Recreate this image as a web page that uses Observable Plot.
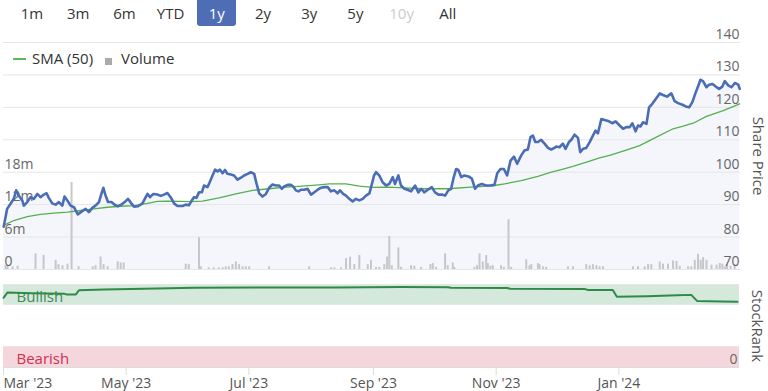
<!DOCTYPE html>
<html><head><meta charset="utf-8">
<script src="https://cdn.jsdelivr.net/npm/d3@7"></script>
<script src="https://cdn.jsdelivr.net/npm/@observablehq/plot@0.6"></script>
<style>
body{margin:0;background:#fff;font-family:"Open Sans",sans-serif;}
#wrap{position:relative;width:768px;height:391px;overflow:hidden;background:#fff;}
#wrap svg{position:absolute;left:0;top:0;max-width:none;}
.btn{position:absolute;top:0;height:26px;line-height:26px;font-size:15px;color:#333;text-align:center;width:46px;}
.btn.dis{color:#ccc;}
.btn.sel span{display:inline-block;width:39px;height:26px;background:#4f6db4;color:#fff;border-radius:0 0 3px 3px;}
#legend{position:absolute;left:13px;top:48px;height:20px;line-height:20px;font-size:15px;color:#333;white-space:nowrap;}
#legend .ln{display:inline-block;width:13px;height:2px;background:#5cb85c;vertical-align:middle;margin-right:6px;position:relative;top:-1px;}
#legend .sq{display:inline-block;width:7px;height:7px;background:#aaa;margin-left:12px;margin-right:9px;position:relative;top:1px;}
</style></head>
<body><div id="wrap"></div>
<script>
// ---- data (x = days since 1 Mar 2023) ----
const rangeLabels = ["1m","3m","6m","YTD","1y","2y","3y","5y","10y","All"];
const monthTickDays = [0, 61, 122, 184, 245, 306];
const monthTickLabels = ["Mar '23","May '23","Jul '23","Sep '23","Nov '23","Jan '24"];
const priceTicks = [70, 80, 90, 100, 110, 120, 130, 140];
const volTicks = [0, 6, 12, 18];
const volTickLabels = ["0", "6m", "12m", "18m"];

const priceDays = [0.1,1.8,3.5,5.1,6.3,7.6,9.3,10.1,11.8,13.4,15.1,16.8,18.4,20.0,21.4,22.5,24.2,25.9,27.5,29.2,30.3,31.7,33.3,35.0,36.9,39.1,40.8,42.4,44.1,45.7,47.4,48.6,49.6,50.7,51.9,53.6,55.2,56.8,58.5,60.2,61.8,63.5,64.8,66.8,69.0,71.5,72.8,74.4,76.4,78.1,79.7,81.4,83.0,84.7,86.4,88.9,90.5,92.1,93.5,94.6,95.8,97.1,98.5,99.6,101.3,102.4,103.8,105.1,106.3,107.4,108.8,110.0,111.2,112.9,114.5,116.2,117.9,119.5,121.2,122.8,124.5,125.7,127.0,128.6,130.3,131.9,133.6,135.3,136.9,138.2,139.4,141.1,142.7,143.9,145.2,146.5,147.7,149.3,151.0,152.7,154.3,156.0,157.6,159.3,161.0,162.6,164.3,165.9,167.1,168.7,170.1,171.7,173.4,175.0,176.7,178.4,180.0,181.7,183.0,184.0,185.0,186.6,188.3,190.0,191.6,193.3,194.4,196.1,197.4,199.1,200.7,202.4,204.4,206.0,207.4,209.0,210.7,212.7,214.3,216.0,217.7,219.3,220.9,222.3,223.6,224.8,225.9,227.3,228.9,230.9,232.6,234.2,235.6,237.5,239.7,241.8,243.8,245.2,246.8,248.5,250.1,251.8,253.5,255.1,257.1,258.7,260.4,261.7,262.9,264.1,265.4,267.0,268.7,270.4,272.0,273.6,274.5,276.1,277.8,279.1,280.8,282.0,283.6,285.3,286.4,287.8,289.4,291.1,292.7,294.0,295.2,296.9,298.5,300.7,302.3,304.0,306.0,307.7,309.3,311.0,312.3,313.9,315.1,316.3,317.6,319.3,320.6,322.2,323.9,325.9,327.5,329.5,331.7,333.3,335.0,337.2,338.8,340.5,342.1,343.8,344.9,346.1,347.4,349.1,350.4,352.1,353.7,355.4,357.0,358.2,359.9,361.5,363.2,364.9,365.6];
const priceValues = [83.2,88.7,90.3,91.8,94.4,92.8,91.3,89.7,90.8,92.3,91.8,93.3,92.3,93.1,93.5,92.1,90.4,90.0,90.8,89.7,92.5,91.3,89.7,89.2,87.0,88.0,88.7,87.7,89.0,89.7,90.8,93.3,95.2,92.8,90.8,90.8,90.0,89.5,90.0,90.8,91.8,90.4,89.4,89.5,90.4,93.3,92.3,93.3,93.1,92.7,93.1,93.6,92.3,90.4,89.6,89.6,90.0,89.8,91.3,92.3,92.1,93.8,93.8,95.9,95.4,96.9,99.0,100.8,100.2,100.8,99.7,100.7,99.5,99.3,99.0,97.7,98.3,99.0,99.5,100.0,99.5,96.4,93.5,92.5,93.3,95.2,96.2,95.9,95.9,94.9,95.6,96.1,96.1,95.6,94.4,94.1,94.6,94.6,94.9,93.1,93.8,94.6,95.2,95.4,95.4,94.1,94.4,93.5,94.4,93.3,92.8,91.8,91.0,91.8,91.3,91.8,92.8,93.5,96.5,99.0,100.0,99.0,96.9,95.9,96.4,98.5,96.4,99.0,95.9,94.9,94.6,94.1,95.9,93.8,94.9,93.8,94.6,95.4,93.8,93.1,93.1,92.8,94.4,94.9,98.5,101.0,100.7,98.5,99.0,98.7,98.0,94.9,95.9,96.4,95.9,95.9,96.1,99.7,101.0,101.0,99.0,103.6,104.8,102.6,105.2,106.7,107.0,110.8,111.3,109.3,109.3,110.0,108.8,107.5,107.0,107.5,107.9,107.7,108.8,107.2,109.3,110.0,111.6,110.6,106.2,107.2,107.5,109.3,111.3,112.8,112.0,116.4,116.1,115.7,115.1,115.7,114.4,113.4,113.9,113.9,115.1,112.6,114.4,114.1,115.4,114.9,120.0,121.1,122.6,124.3,123.8,123.3,124.3,121.9,121.3,120.8,120.3,120.0,121.6,124.7,126.4,128.5,128.1,126.2,127.0,127.2,126.4,125.7,126.4,128.1,126.8,126.2,127.5,127.0,125.7];

const smaDays = [0.1,5.1,11.8,18.4,25.0,31.7,38.3,44.9,51.6,58.2,64.8,71.5,76.4,81.4,88.0,93.0,98.8,107.1,115.4,123.7,131.9,140.2,148.5,156.8,161.8,170.1,176.7,183.3,190.8,199.1,207.4,220.6,232.2,243.8,248.8,257.1,265.4,272.0,277.0,282.8,291.1,296.0,301.0,307.7,315.9,324.2,332.5,337.5,342.5,349.1,357.4,365.6];
const smaValues = [83.6,85.1,86.3,87.0,87.4,87.7,88.2,88.7,89.2,89.5,89.7,90.4,91.0,91.1,91.0,90.9,91.1,92.1,93.3,94.4,94.9,95.4,95.7,96.1,96.4,96.4,95.7,95.3,95.4,95.2,94.9,94.9,95.4,95.9,96.4,97.4,98.7,100.0,100.8,101.8,103.4,104.4,105.2,106.5,108.2,110.8,113.4,114.2,115.1,117.2,119.0,121.1];

const volDays = [1.0,2.0,4.5,7.0,15.9,19.9,25.9,27.3,29.3,31.8,33.8,37.3,44.3,45.7,48.2,49.7,51.7,56.7,58.2,59.7,90.5,92.0,97.1,98.0,101.9,104.4,106.9,108.9,110.4,111.9,113.7,115.4,117.0,118.7,120.3,122.0,131.9,151.8,162.6,164.3,167.6,170.1,172.1,174.2,176.7,180.9,182.5,185.0,186.6,189.1,190.5,191.6,192.8,196.1,197.4,202.4,204.0,207.4,212.0,213.2,214.8,219.3,220.6,223.1,223.9,233.9,235.2,236.4,238.0,239.7,240.5,241.8,243.0,247.1,248.5,250.8,252.1,259.6,261.2,262.1,265.4,266.2,267.9,269.5,280.3,282.8,289.4,291.1,292.7,294.4,296.0,297.7,312.6,315.1,318.4,320.1,321.7,325.9,327.5,330.0,332.5,334.2,335.8,340.0,341.6,343.3,344.9,346.2,347.4,349.1,351.6,354.1,355.7,357.0,358.2,359.3,361.1,363.1];
const volValues = [0.7,0.6,0.5,0.6,2.9,2.6,1.7,0.9,0.7,1.0,16.1,0.5,0.5,0.7,2.3,0.9,0.5,1.4,1.2,1.2,1.0,0.9,5.9,0.5,0.3,0.3,0.3,0.3,0.5,0.5,0.9,1.4,0.9,0.5,0.5,0.5,0.5,0.5,0.3,0.3,0.3,2.0,2.3,0.9,2.6,0.9,1.7,0.4,0.4,0.9,2.3,6.1,0.7,4.0,0.4,0.7,0.6,0.4,0.9,1.1,0.4,2.9,0.7,1.2,0.4,0.4,0.7,2.9,1.4,2.6,1.1,0.6,0.7,0.7,0.4,9.2,0.4,1.8,0.7,0.9,1.1,0.9,0.5,0.4,0.5,0.5,0.9,0.7,0.9,0.7,0.5,0.5,0.5,0.5,0.5,0.9,0.9,1.4,1.0,1.0,1.6,1.5,0.6,0.5,0.5,1.7,2.8,1.7,2.2,1.7,0.8,0.8,1.1,1.0,0.5,0.9,0.6,0.8];

const rankDays = [0,2,14,30,31.5,36,37.5,50,70,95,130,165,198,221,222.5,250.5,252,289,290.5,303,305,320,335,342,345,357,365];
const rankValues = [84,90.5,89.5,89,88,88,93,94,95,96,96.5,96.5,97,96.8,96,95.8,94.8,94.5,93.5,93.3,85.2,85.8,87,87.5,80,79.5,79.3];

const bandLabels = ["Bullish", "Bearish"];
const bandLow = [75, 0];
const bandHigh = [100, 25];

// ---- build ----
const xDomain = [0, 366];
const price = priceDays.map((d, i) => ({day: d, price: priceValues[i]}));
const sma = smaDays.map((d, i) => ({day: d, sma: smaValues[i]}));
const vol = volDays.map((d, i) => ({day: d, vol: volValues[i]}));
const rank = rankDays.map((d, i) => ({day: d, rank: rankValues[i]}));
const bands = bandLabels.map((l, i) => ({label: l, low: bandLow[i], high: bandHigh[i]}));
const months = monthTickDays.map((d, i) => ({day: d, label: monthTickLabels[i]}));
const bandFill = ["#d5e8dc", "#f6d6dd"];
const bandText = ["#3f8b55", "#d0304f"];

const W = 768;
const FONT = '"Open Sans", sans-serif';
const baseOpts = {
  width: W, marginLeft: 3, marginRight: 28,
  x: {type: "linear", domain: xDomain, axis: null},
  style: {fontFamily: FONT, fontSize: "14px", background: "transparent", color: "#666", overflow: "visible"}
};
const topPanel = {height: 280, marginTop: 42, marginBottom: 11};

const bgPlot = Plot.plot({
  ...baseOpts, ...topPanel,
  y: {domain: [70, 140], axis: null},
  marks: [
    Plot.areaY(price, {x: "day", y1: 70, y2: "price", fill: "#f4f6fb"}),
    Plot.gridY({ticks: priceTicks, stroke: "#e6e6e6", strokeOpacity: 1})
  ]
});

const volPlot = Plot.plot({
  ...baseOpts, ...topPanel,
  y: {domain: [0, 42], axis: null},
  marks: [
    Plot.ruleX(vol, {x: "day", y1: 0, y2: "vol", stroke: "#c6c6cb", strokeWidth: 2}),
    Plot.axisY({anchor: "left", label: null, ticks: volTicks, tickFormat: v => volTickLabels[volTicks.indexOf(v)],
      tickSize: 0, tickPadding: 0, textAnchor: "start", dx: 1, dy: -8, fill: "#666", fontSize: 14})
  ]
});

const linePlot = Plot.plot({
  ...baseOpts, ...topPanel,
  y: {domain: [70, 140], axis: null},
  marks: [
    Plot.line(sma, {x: "day", y: "sma", stroke: "#55b04f", strokeWidth: 1.3}),
    Plot.line(price, {x: "day", y: "price", stroke: "#4a6db5", strokeWidth: 2.6, strokeLinejoin: "round"}),
    Plot.axisY({anchor: "right", label: null, ticks: priceTicks, tickSize: 0, tickPadding: 0, textAnchor: "end", dx: -1, dy: -8, fill: "#666", fontSize: 14}),
    Plot.text(["Share Price"], {frameAnchor: "right", textAnchor: "middle", rotate: 90, dx: 17, fontSize: 15, fill: "#555"})
  ]
});

const rankPlot = Plot.plot({
  ...baseOpts, height: 391, marginTop: 284, marginBottom: 24,
  marginRight: 29,
  y: {domain: [0, 100], axis: null},
  marks: [
    Plot.rect(bands, {x1: xDomain[0], x2: xDomain[1], y1: "low", y2: "high", fill: d => bandFill[bandLabels.indexOf(d.label)]}),
    Plot.ruleY([100], {stroke: "#e6e6e6"}),
    Plot.text(bands, {x: xDomain[0], y: "low", text: "label", dx: 13, dy: -8, textAnchor: "start", fontSize: 15,
      fill: d => bandText[bandLabels.indexOf(d.label)]}),
    Plot.line(rank, {x: "day", y: "rank", stroke: "#2e8b47", strokeWidth: 2}),
    Plot.ruleY([0], {stroke: "#dcdcdc"}),
    Plot.axisX({anchor: "bottom", label: null, ticks: monthTickDays, tickFormat: () => "",
      tickSize: 8, stroke: "#dcdcdc"}),
    Plot.text(months.slice(0, 1), {x: "day", y: 0, text: "label", textAnchor: "start", dy: 16, fill: "#555", fontSize: 14}),
    Plot.text(months.slice(1), {x: "day", y: 0, text: "label", textAnchor: "middle", dy: 16, fill: "#555", fontSize: 14}),
    Plot.axisY({anchor: "right", label: null, ticks: [0], tickSize: 0, tickPadding: 0, textAnchor: "end", dx: -2, dy: -8, fill: "#666", fontSize: 14}),
    Plot.text(["StockRank"], {frameAnchor: "right", textAnchor: "middle", rotate: 90, dx: 17, fontSize: 15, fill: "#555"})
  ]
});

const wrap = document.getElementById("wrap");
[bgPlot, volPlot, linePlot, rankPlot].forEach(el => wrap.appendChild(el));

// range buttons
rangeLabels.forEach((t, i) => {
  const b = document.createElement("div");
  b.className = "btn" + (t === "1y" ? " sel" : "") + (t === "10y" ? " dis" : "");
  b.style.left = (9 + i * 46.2) + "px";
  const s = document.createElement("span");
  s.textContent = t;
  b.appendChild(s);
  wrap.appendChild(b);
});
const lg = document.createElement("div");
lg.id = "legend";
lg.innerHTML = '<span class="ln"></span>SMA (50)<span class="sq"></span>Volume';
wrap.appendChild(lg);
</script></body></html>
